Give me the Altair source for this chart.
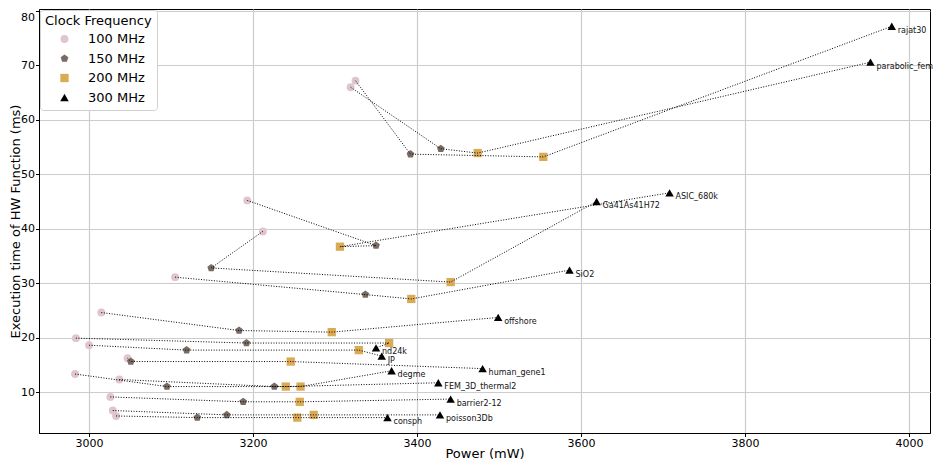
import altair as alt
import pandas as pd

# ---------------- data ----------------
benchmarks = ["rajat30", "parabolic_fem", "ASIC_680k", "Ga41As41H72", "SiO2",
              "offshore", "nd24k", "JP", "human_gene1", "degme",
              "FEM_3D_thermal2", "barrier2-12", "poisson3Db", "consph"]
freq_labels = ["100 MHz", "150 MHz", "200 MHz", "300 MHz"]

power_100 = [3325, 3319, 3193, 3212, 3105, 3015, 2984, 3000, 3047, 2983, 3037, 3026, 3029, 3033]
time_100 = [67.2, 66.0, 45.2, 39.5, 31.1, 24.6, 19.9, 18.6, 16.2, 13.3, 12.3, 9.1, 6.6, 5.6]

power_150 = [3392, 3429, 3350, 3149, 3337, 3183, 3192, 3119, 3051, 3095, 3226, 3188, 3168, 3132]
time_150 = [53.7, 54.7, 36.9, 32.8, 27.9, 21.3, 19.0, 17.7, 15.6, 11.0, 11.0, 8.2, 5.8, 5.3]

power_200 = [3554, 3474, 3306, 3441, 3393, 3296, 3366, 3329, 3246, 3258, 3240, 3257, 3274, 3254]
time_200 = [53.2, 53.9, 36.7, 30.2, 27.1, 21.0, 19.0, 17.7, 15.6, 11.0, 11.0, 8.2, 5.8, 5.3]

power_300 = [3979, 3953, 3708, 3619, 3586, 3499, 3350, 3357, 3480, 3369, 3426, 3441, 3428, 3364]
time_300 = [77.2, 70.6, 46.6, 45.0, 32.4, 23.7, 18.1, 16.6, 14.3, 13.9, 11.7, 8.7, 5.8, 5.3]

x_ticks = [3000, 3200, 3400, 3600, 3800, 4000]
y_ticks = [10, 20, 30, 40, 50, 60, 70, 80]

# ---------------- table ----------------
powers = [power_100, power_150, power_200, power_300]
times = [time_100, time_150, time_200, time_300]
rows = []
for i, b in enumerate(benchmarks):
    for step, f in enumerate(freq_labels):
        rows.append({"bench": b, "freq": f, "step": step,
                     "power": powers[step][i], "time": times[step][i]})
df = pd.DataFrame(rows)

# ---------------- styling ----------------
pentagon = "M0,-1L0.951,-0.309L0.588,0.809L-0.588,0.809L-0.951,-0.309Z"
shape_range = ["circle", pentagon, "square", "triangle-up"]
color_range = ["#dfc5cf", "#7a6a64", "#daaa55", "#000000"]
size_range = [62, 72, 70, 105]

xs = alt.Scale(domain=[2939, 4025.6], nice=False, zero=False)
ys = alt.Scale(domain=[2.47, 80.37], nice=False, zero=False)

x_axis = alt.Axis(values=x_ticks, format="d", title="Power (mW)", grid=True,
                  tickSize=3.5, labelPadding=1, titleY=24, titleBaseline="alphabetic")
y_axis = alt.Axis(values=y_ticks, format="d", title="Execution time of HW Function (ms)",
                  grid=True, tickSize=3.5, labelPadding=1, labelFlush=4,
                  titleX=-20, titleY=212, titleAngle=270, titleBaseline="alphabetic",
                  titleAlign="center")

legend = alt.Legend(title="Clock Frequency", orient="none", legendX=1, legendY=1,
                    padding=5, titleFontSize=13, labelFontSize=13,
                    titleFontWeight="normal", titlePadding=4.5, rowPadding=5.5,
                    symbolOffset=13, labelOffset=17, strokeColor="#d0d0d0",
                    fillColor="white", cornerRadius=3, symbolSize=60,
                    symbolStrokeWidth=0, titleColor="black", labelColor="black")

base = alt.Chart(df)

points = base.mark_point(filled=True, opacity=1).encode(
    x=alt.X("power:Q", scale=xs, axis=x_axis),
    y=alt.Y("time:Q", scale=ys, axis=y_axis),
    shape=alt.Shape("freq:N", scale=alt.Scale(domain=freq_labels, range=shape_range), legend=legend),
    color=alt.Color("freq:N", scale=alt.Scale(domain=freq_labels, range=color_range), legend=legend),
    size=alt.Size("freq:N", scale=alt.Scale(domain=freq_labels, range=size_range), legend=None),
)

lines = base.mark_line(color="black", strokeDash=[1, 1.6], strokeWidth=1).encode(
    x=alt.X("power:Q", scale=xs),
    y=alt.Y("time:Q", scale=ys),
    detail="bench:N",
    order=alt.Order("step:Q"),
)

labels = base.transform_filter(alt.datum.step == 3).mark_text(
    align="left", baseline="middle", dx=6, dy=4.5, fontSize=8, color="#111111"
).encode(
    x=alt.X("power:Q", scale=xs),
    y=alt.Y("time:Q", scale=ys),
    text="bench:N",
)

chart = alt.layer(points, lines, labels).properties(
    width=891, height=424,
    autosize=alt.AutoSizeParams(type="none"),
    padding={"left": 31, "top": 1, "right": 3, "bottom": 27},
).configure(
    font="DejaVu Sans",
).configure_view(
    stroke="black", strokeWidth=1,
).configure_axis(
    labelFontSize=11, titleFontSize=13, titleFontWeight="normal",
    labelColor="black", titleColor="black", domainColor="black",
    tickColor="black", gridColor="#cccccc", gridWidth=1.2,
)

chart.save("out.html", embed_options={"renderer": "svg", "actions": False})
